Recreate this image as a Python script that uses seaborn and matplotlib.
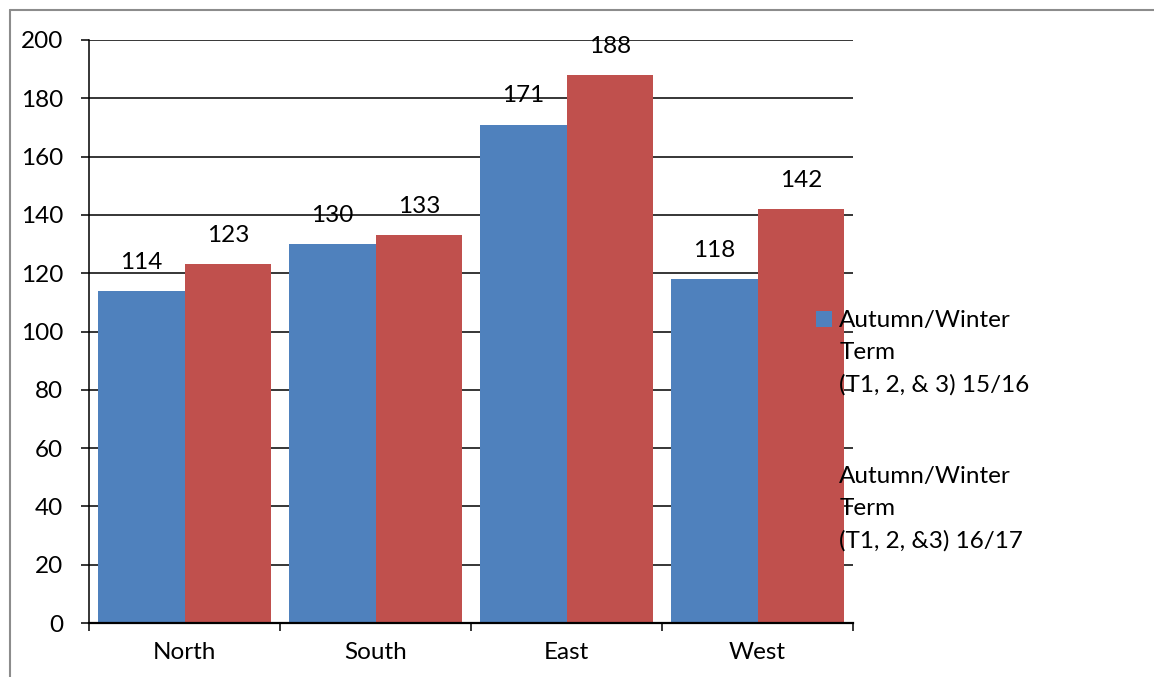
import matplotlib
matplotlib.use("Agg")
import matplotlib.pyplot as plt
import seaborn as sns
import pandas as pd
from matplotlib.lines import Line2D
from matplotlib.patches import Patch, Rectangle
from matplotlib.legend_handler import HandlerPatch

# Chart data
regions = ["North", "South", "East", "West"]
terms = [
    "Autumn/Winter\nTerm\n(T1, 2, & 3) 15/16",
    "Autumn/Winter\nTerm\n(T1, 2, &3) 16/17",
]
values_1516 = [114, 130, 171, 118]
values_1617 = [123, 133, 188, 142]
y_ticks = list(range(0, 201, 20))
colors = ["#4F81BD", "#C0504D"]

df = pd.DataFrame({
    "region": regions * 2,
    "term": [terms[0]] * len(regions) + [terms[1]] * len(regions),
    "count": values_1516 + values_1617,
})

sns.set_theme(style="white")
plt.rcParams["font.family"] = ["Lato", "DejaVu Sans"]
FS = 17.5
LINE_STEP_PT = 33 * 0.72  # one text line, in points

W, H = 1154, 677
fig = plt.figure(figsize=(W / 100, H / 100), dpi=100)
ax = fig.add_axes([89 / W, 1 - 623 / H, (853 - 89) / W, (623 - 40) / H])

sns.barplot(data=df, x="region", y="count", hue="term", hue_order=terms,
            palette=colors, saturation=1, width=0.91, gap=0, linewidth=0,
            errorbar=None, legend=False, ax=ax)

ax.set_xlim(-0.5, len(regions) - 0.5)
ax.set_ylim(0, 200)
ax.set_xlabel("")
ax.set_ylabel("")

# Category boundaries carry the tick marks, centres carry the labels
ax.set_xticks([i - 0.5 for i in range(len(regions) + 1)])
ax.set_xticklabels([""] * (len(regions) + 1))
ax.set_xticks(range(len(regions)), minor=True)
ax.set_xticklabels(regions, minor=True, fontsize=FS, color="black")
ax.tick_params(axis="x", which="minor", length=0, pad=14)
ax.tick_params(axis="x", which="major", length=5.5, width=1.1,
               direction="out", color="black", bottom=True)

ax.set_yticks(y_ticks)
ax.set_yticklabels([str(v) for v in y_ticks], fontsize=FS, color="black")
ax.tick_params(axis="y", length=5.5, width=1.1, direction="out",
               color="black", left=True, pad=13)

ax.set_axisbelow(True)
ax.yaxis.grid(True, color="black", linewidth=1.1)
ax.xaxis.grid(False)
for side in ("top", "right"):
    ax.spines[side].set_visible(False)
ax.spines["left"].set_color("black")
ax.spines["left"].set_linewidth(1.1)
ax.spines["bottom"].set_color("black")
ax.spines["bottom"].set_linewidth(1.6)

# Value labels above each bar
for container, vals in zip(ax.containers, [values_1516, values_1617]):
    ax.bar_label(container, labels=[str(v) for v in vals], padding=13,
                 fontsize=FS, color="black")


# Legend swatch sits beside the first line of its (multi-line) label
def top_line_swatch(legend, orig_handle, xdescent, ydescent, width, height,
                    fontsize):
    return Rectangle((-xdescent, -ydescent + LINE_STEP_PT * 1.02), width,
                     height)


handles = [Patch(facecolor=c, edgecolor="none") for c in colors]
leg = ax.legend(handles, terms, loc="upper left",
                bbox_to_anchor=(816 / W, 1 - 310 / H),
                bbox_transform=fig.transFigure, frameon=False,
                fontsize=FS, handlelength=0.66, handleheight=0.66,
                handletextpad=0.3, labelspacing=2.9, borderpad=0,
                borderaxespad=0,
                handler_map={Patch: HandlerPatch(patch_func=top_line_swatch)})
for t in leg.get_texts():
    t.set_linespacing(1.64)
    t.set_color("black")

# Outer frame
frame_kw = dict(transform=fig.transFigure, color="#8c8c8c", linewidth=1.5)
fig.add_artist(Line2D([10 / W, 1], [1 - 10 / H] * 2, **frame_kw))
fig.add_artist(Line2D([10 / W] * 2, [0, 1 - 10 / H], **frame_kw))

fig.savefig("out.png", dpi=100, facecolor="white")
